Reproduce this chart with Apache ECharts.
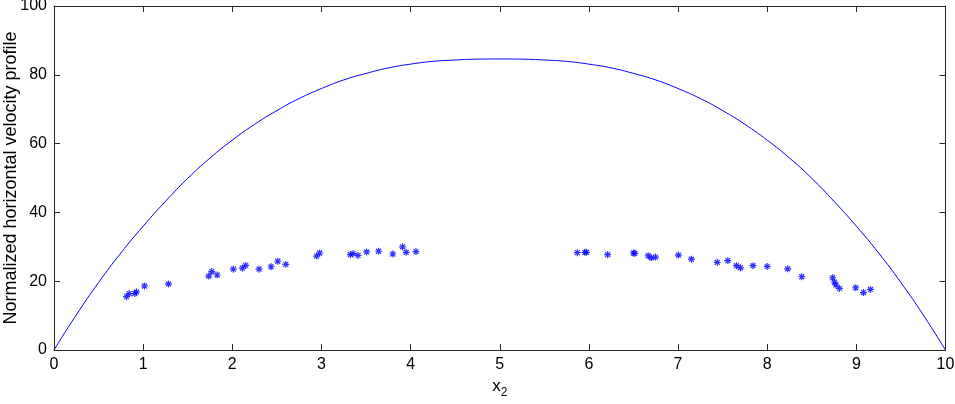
<!DOCTYPE html>
<html>
<head>
<meta charset="utf-8">
<script src="https://cdn.jsdelivr.net/npm/echarts@6/dist/echarts.min.js"></script>
<style>
html,body{margin:0;padding:0;background:#fff;}
#chart{width:955px;height:404px;}
</style>
</head>
<body>
<div id="chart"></div>
<script>
// Profile curve
const curveX = [0, 0.25, 0.5, 0.75, 1, 1.25, 1.5, 1.75, 2, 2.25, 2.5, 2.75, 3, 3.25, 3.5, 3.75, 4, 4.25, 4.5, 4.75, 5,
  5.25, 5.5, 5.75, 6, 6.25, 6.5, 6.75, 7, 7.25, 7.5, 7.75, 8, 8.25, 8.5, 8.75, 9, 9.25, 9.5, 9.75, 10];
const curveY = [0, 10.2, 19.6, 28.2, 36.0, 43.2, 49.9, 55.8, 61.0, 65.6, 69.6, 73.1, 76.0, 78.5, 80.4, 82.0, 83.1, 83.9, 84.3, 84.55, 84.6,
  84.55, 84.3, 83.9, 83.1, 82.0, 80.4, 78.5, 76.0, 73.1, 69.6, 65.6, 61.0, 55.8, 49.9, 43.2, 36.0, 28.2, 19.6, 10.2, 0];

// Measured points (asterisks)
const ptsX = [0.813, 0.843, 0.906, 0.925, 1.015, 1.284, 1.736, 1.77, 1.83, 2.012, 2.113, 2.15, 2.30, 2.435, 2.51, 2.60,
  2.946, 2.98, 3.324, 3.354, 3.41, 3.507, 3.641, 3.80, 3.91, 3.95, 4.06,
  5.87, 5.955, 5.973, 6.21, 6.50, 6.515, 6.665, 6.70, 6.747, 7.004, 7.15, 7.44, 7.558, 7.655, 7.70, 7.84,
  8.0, 8.23, 8.388, 8.735, 8.754, 8.772, 8.81, 8.993, 9.08, 9.157];
const ptsY = [15.5, 16.4, 16.4, 16.9, 18.6, 19.2, 21.5, 22.8, 21.8, 23.5, 23.8, 24.6, 23.5, 24.2, 25.8, 24.9,
  27.3, 28.2, 27.7, 28.0, 27.5, 28.5, 28.7, 27.9, 30.0, 28.4, 28.6,
  28.3, 28.4, 28.4, 27.7, 28.2, 28.1, 27.4, 26.8, 27.0, 27.6, 26.4, 25.5, 26.0, 24.5, 23.9, 24.5,
  24.3, 23.6, 21.3, 21.0, 19.7, 18.9, 17.9, 18.1, 16.7, 17.6];

const xTicks = [0,1,2,3,4,5,6,7,8,9,10];
const yTicks = [0,20,40,60,80,100];

const chart = echarts.init(document.getElementById('chart'), null, {renderer:'canvas'});
const FONT = '"Liberation Sans", Arial, Helvetica, sans-serif';
const AX = '#262626';
const asterisk = 'path://M0,-1L0,1M-1,0L1,0M-0.7071,-0.7071L0.7071,0.7071M-0.7071,0.7071L0.7071,-0.7071';

function xAx(extra){
  return Object.assign({
    type:'value', min:xTicks[0], max:xTicks[xTicks.length-1], interval:1,
    axisLine:{show:true, onZero:false, lineStyle:{color:AX, width:1}},
    axisTick:{show:true, inside:true, length:6, lineStyle:{color:AX}},
    splitLine:{show:false},
    axisLabel:{color:'#000', fontFamily:FONT, fontSize:16, margin:7}
  }, extra);
}
function yAx(extra){
  return Object.assign({
    type:'value', min:yTicks[0], max:yTicks[yTicks.length-1], interval:20,
    axisLine:{show:true, onZero:false, lineStyle:{color:AX, width:1}},
    axisTick:{show:true, inside:true, length:6, lineStyle:{color:AX}},
    splitLine:{show:false},
    axisLabel:{color:'#000', fontFamily:FONT, fontSize:16, margin:7}
  }, extra);
}

chart.setOption({
  animation:false,
  backgroundColor:'#fff',
  grid:{left:54, right:9.5, top:6, bottom:54, containLabel:false, outerBoundsMode:'none'},
  xAxis:[
    xAx({position:'bottom', name:'{a|x}{b|2}', nameLocation:'middle', nameGap:24,
      nameTextStyle:{color:'#000', fontFamily:FONT, fontSize:17,
        rich:{a:{fontFamily:FONT, fontSize:17, color:'#000'}, b:{fontFamily:FONT, fontSize:12, color:'#000', padding:[12,0,0,0]}}}}),
    xAx({position:'top', axisLabel:{show:false}})
  ],
  yAxis:[
    yAx({position:'left', name:'Normalized horizontal velocity profile', nameLocation:'middle', nameGap:34,
      nameMoveOverlap:false,
      nameTextStyle:{color:'#000', fontFamily:FONT, fontSize:18}}),
    yAx({position:'right', axisLabel:{show:false}})
  ],
  series:[
    {
      type:'line', xAxisIndex:0, yAxisIndex:0,
      data: curveX.map((x,i)=>[x, curveY[i]]),
      smooth:0.5, showSymbol:false, symbol:'none',
      lineStyle:{color:'#0000ff', width:1}
    },
    {
      type:'scatter', xAxisIndex:0, yAxisIndex:0,
      data: ptsX.map((x,i)=>[x, ptsY[i]]),
      symbol: asterisk, symbolSize:7,
      itemStyle:{color:'none', borderColor:'#0000ff', borderWidth:1.2}
    }
  ]
});
</script>
</body>
</html>
